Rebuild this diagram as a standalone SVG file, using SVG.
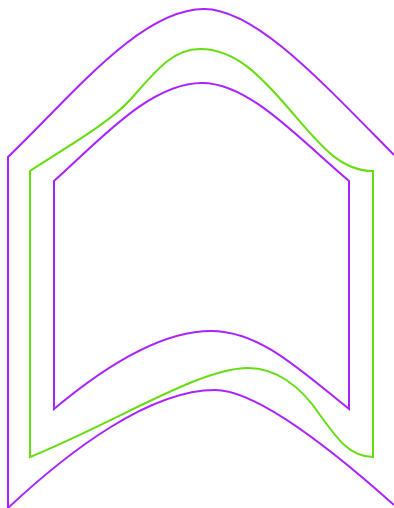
<svg xmlns="http://www.w3.org/2000/svg" width="394" height="508" viewBox="0 0 394 508">
<style>
.p{fill:none;stroke:#aa22ff;stroke-width:2;stroke-linejoin:miter}
.g{fill:none;stroke:#66dd11;stroke-width:2;stroke-linejoin:miter}
</style>
<rect width="394" height="508" fill="#ffffff"/>
<g id="outer">
<path class="p" d="M8,508 L8,157 C70,98 140,9 204,9 C255,9 320,80 394,155"/>
<path class="p" d="M8,508 C70,450 150,390 215,390 C250,390 310,430 394,505"/>
</g>
<g id="middle">
<path class="g" d="M30,457 L30,171 C70,145 110,122 130,100 C155,72 172,49 200,49 C235,49 260,75 290,110 C320,145 340,171 373,171 L373,457 C350,457 338,440 320,415 C300,385 275,368 248,368 C200,368 120,420 30,457 Z"/>
</g>
<g id="inner">
<path class="p" d="M54,409 L54,181 C100,140 150,83 202,83 C250,83 300,140 349,181 L349,409 C300,370 260,331 211,331 C165,331 110,362 54,409 Z"/>
</g>
</svg>
